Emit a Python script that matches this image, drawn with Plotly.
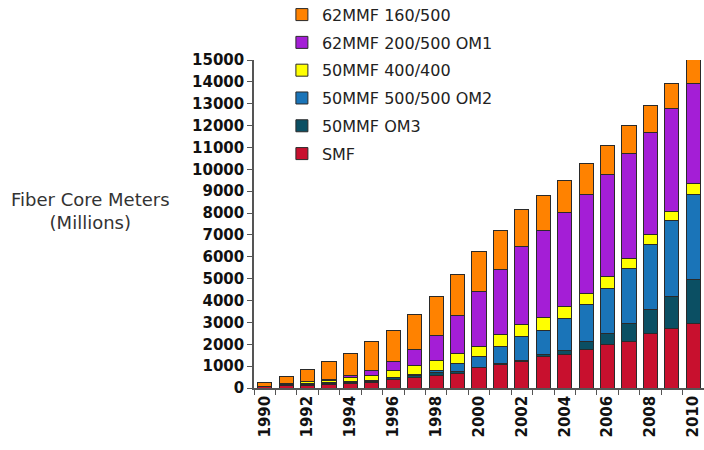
import plotly.graph_objects as go

years = [str(y) for y in range(1990, 2011)]
tick_text = [y if int(y) % 2 == 0 else "" for y in years]
y_ticks = list(range(0, 15001, 1000))
y_tick_text = [str(v) for v in y_ticks]

smf     = [60, 110, 130, 150, 200, 250, 370, 500, 550, 680, 920, 1080, 1230, 1420, 1550, 1770, 2010, 2120, 2500, 2730, 2960]
om3     = [30, 60, 50, 50, 60, 70, 90, 80, 150, 60, 40, 50, 40, 100, 180, 350, 490, 840, 1070, 1450, 2010]
om2     = [0, 20, 20, 30, 50, 40, 40, 60, 120, 380, 470, 760, 1070, 1120, 1450, 1680, 2060, 2510, 2970, 3500, 3900]
mm400   = [0, 30, 90, 100, 170, 230, 290, 380, 430, 480, 490, 550, 580, 580, 530, 530, 530, 460, 460, 380, 490]
om1     = [0, 0, 20, 40, 80, 230, 410, 720, 1170, 1720, 2480, 3000, 3540, 4000, 4300, 4530, 4680, 4800, 4680, 4700, 4570]
mm160   = [180, 300, 530, 830, 1020, 1300, 1450, 1600, 1770, 1850, 1860, 1780, 1710, 1600, 1460, 1390, 1300, 1270, 1260, 1170, 1140]

series = [
    ("SMF", smf, "#C8102E"),
    ("50MMF OM3", om3, "#0B4F63"),
    ("50MMF 500/500 OM2", om2, "#1A74B8"),
    ("50MMF 400/400", mm400, "#FFFF00"),
    ("62MMF 200/500 OM1", om1, "#A41ED6"),
    ("62MMF 160/500", mm160, "#FF8200"),
]

fig = go.Figure()
for i, (name, vals, color) in enumerate(series):
    fig.add_trace(go.Bar(
        x=years, y=vals, name=name, legendgroup="g%d" % i,
        legendrank=len(series) - i,
        marker=dict(color=color, line=dict(color="#2a2a2a", width=1)),
    ))

font_family = "DejaVu Sans"
fig.update_layout(
    width=704, height=450,
    barmode="stack", bargap=0.34,
    paper_bgcolor="white", plot_bgcolor="white",
    margin=dict(l=254, r=0, t=60, b=62, autoexpand=False),
    font=dict(family=font_family, color="#222222"),
    showlegend=True,
    legend=dict(
        x=0.062, y=1.19, xanchor="left", yanchor="top",
        traceorder="grouped", tracegroupgap=4,
        font=dict(family=font_family, size=16, color="#222222"),
        bgcolor="rgba(0,0,0,0)",
    ),
    xaxis=dict(
        type="category", tickson="boundaries", automargin=False,
        tickvals=years, ticktext=tick_text,
        tickangle=-90, ticks="outside", ticklen=5, tickcolor="#555555",
        showline=True, linecolor="#555555", linewidth=1.5,
        showgrid=False,
        tickfont=dict(family=font_family, size=15, color="#111111", weight="bold"),
        range=[-0.5, 20.5],
    ),
    yaxis=dict(
        range=[0, 15000], tickvals=y_ticks, ticktext=y_tick_text, automargin=False,
        ticks="outside", ticklen=5, tickcolor="#555555",
        showline=True, linecolor="#555555", linewidth=1.5,
        showgrid=False, zeroline=False,
        tickfont=dict(family=font_family, size=15, color="#111111", weight="bold"),
    ),
    annotations=[dict(
        text="Fiber Core Meters<br>(Millions)", xref="paper", yref="paper",
        x=-0.364, y=0.54, showarrow=False, xanchor="center", yanchor="middle",
        font=dict(family=font_family, size=18, color="#333333"),
    )],
)

fig.write_html("out.html", config={"displayModeBar": False},
               post_script="document.body.style.margin='0';")
